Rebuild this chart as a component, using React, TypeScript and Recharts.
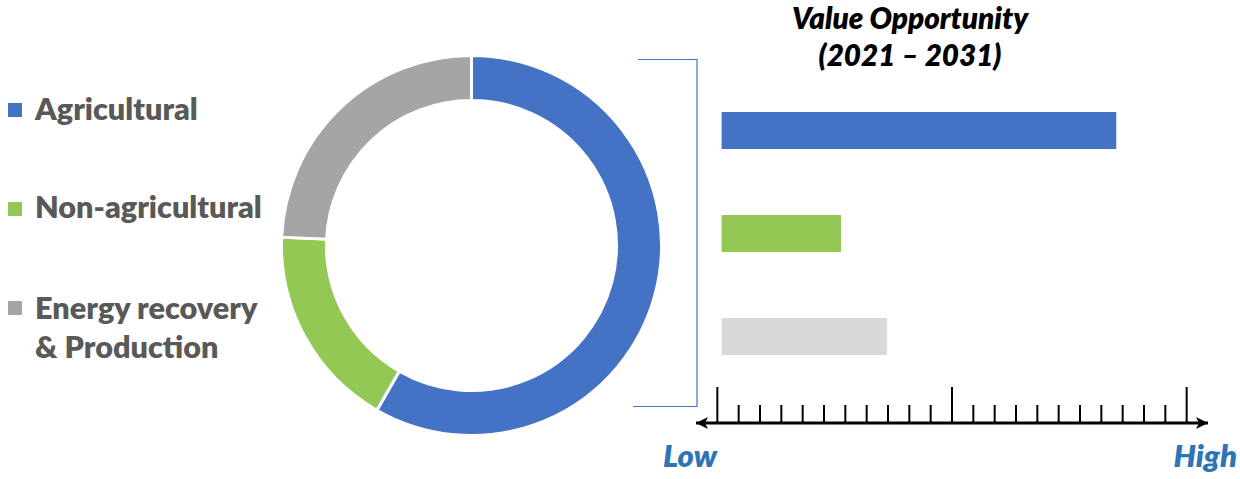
import React from 'react';
import { PieChart, Pie, Cell, BarChart, Bar, XAxis, YAxis, Legend } from 'recharts';

const categories = ['Agricultural', 'Non-agricultural', 'Energy recovery & Production'];
const legendLines = [['Agricultural'], ['Non-agricultural'], ['Energy recovery', '& Production']];
const shareValues = [58.3, 17.4, 24.3];
const opportunityStart = [0.2, 0.2, 0.2];
const opportunityEnd = [18.7, 5.8, 7.95];
const pieColors = ['#4472C4', '#92C853', '#A5A5A5'];
const barColors = ['#4472C4', '#92C853', '#D9D8D6'];
const scaleMin = -1;
const scaleMax = 23;
const scaleTicks = [-1, 0, 1, 2, 3, 4, 5, 6, 7, 8, 9, 10, 11, 12, 13, 14, 15, 16, 17, 18, 19, 20, 21, 22, 23];
const majorTicks = [0, 11, 22];
const titleLines = ['Value Opportunity', '(2021 \u2013 2031)'];
const scaleLabels = ['Low', 'High'];

const FONT = 'Lato, "Open Sans", sans-serif';

const pieData = categories.map((name, i) => ({ name, value: shareValues[i] }));
const barData = categories.map((name, i) => ({ name, range: [opportunityStart[i], opportunityEnd[i]] }));

const ScaleTick = (props: any) => {
  const { x, y, payload } = props;
  const v = payload.value;
  if (v === scaleMin) {
    return <polygon points={`${x},${y} ${x + 12},${y - 6} ${x + 9},${y} ${x + 12},${y + 6}`} fill="#000" />;
  }
  if (v === scaleMax) {
    return <polygon points={`${x},${y} ${x - 12},${y - 6} ${x - 9},${y} ${x - 12},${y + 6}`} fill="#000" />;
  }
  const len = majorTicks.includes(v) ? 36 : 18;
  return <line x1={x} x2={x} y1={y} y2={y - len} stroke="#000" strokeWidth={2} />;
};

const legendBaselines = [[120], [218], [319, 358]];
const legendSquareTops = [103, 202, 301];

const renderLegend = () => (
  <svg width={300} height={479} style={{ position: 'absolute', left: 0, top: 0 }}>
    {legendLines.map((lines, i) => (
      <g key={i}>
        <rect x={8} y={legendSquareTops[i]} width={14} height={14} fill={pieColors[i]} />
        {lines.map((t, j) => (
          <text key={j} x={35} y={legendBaselines[i][j]} fontFamily={FONT} fontWeight={800} fontSize={30.6} fill="#595959">
            {t}
          </text>
        ))}
      </g>
    ))}
  </svg>
);

export default function App() {
  return (
    <div style={{ position: 'absolute', left: 0, top: 0, width: 1240, height: 479, background: '#fff', overflow: 'hidden' }}>
      <div style={{ position: 'absolute', left: 0, top: 0 }}>
        <PieChart width={1240} height={479} margin={{ top: 0, right: 0, bottom: 0, left: 0 }}>
          <Pie
            data={pieData}
            dataKey="value"
            nameKey="name"
            cx={471.5}
            cy={245.5}
            innerRadius={145}
            outerRadius={190}
            startAngle={90}
            endAngle={-270}
            stroke="#fff"
            strokeWidth={3}
            isAnimationActive={false}
          >
            {pieData.map((d, i) => (
              <Cell key={d.name} fill={pieColors[i]} />
            ))}
          </Pie>
          <Legend content={renderLegend} wrapperStyle={{ position: 'absolute', left: 0, top: 0, width: 300, height: 479 }} />
        </PieChart>
      </div>
      <div style={{ position: 'absolute', left: 0, top: 0 }}>
        <BarChart
          width={1240}
          height={479}
          layout="vertical"
          data={barData}
          margin={{ top: 79, right: 32, bottom: 55, left: 696 }}
          barSize={37}
        >
          <XAxis
            type="number"
            domain={[scaleMin, scaleMax]}
            ticks={scaleTicks}
            interval={0}
            tick={<ScaleTick />}
            tickLine={false}
            tickSize={0}
            tickMargin={0}
            height={1}
            axisLine={{ stroke: '#000', strokeWidth: 3 }}
            allowDataOverflow
          />
          <YAxis type="category" dataKey="name" hide padding={{ top: 0, bottom: 35 }} />
          <Bar dataKey="range" isAnimationActive={false}>
            {barData.map((d, i) => (
              <Cell key={d.name} fill={barColors[i]} />
            ))}
          </Bar>
        </BarChart>
      </div>
      <svg width={1240} height={479} style={{ position: 'absolute', left: 0, top: 0, pointerEvents: 'none' }}>
        <polyline points="638,59.5 697,59.5 697,406.5 633,406.5" fill="none" stroke="#4472C4" strokeWidth={1.2} />
        <text x={910} y={29} textAnchor="middle" fontFamily={FONT} fontWeight={800} fontStyle="italic" fontSize={29.6} fill="#000">
          {titleLines[0]}
        </text>
        <text x={910} y={66} textAnchor="middle" fontFamily={FONT} fontWeight={800} fontStyle="italic" fontSize={29.6} fill="#000">
          {titleLines[1]}
        </text>
        <text x={663} y={467} fontFamily={FONT} fontWeight={800} fontStyle="italic" fontSize={31} fill="#2E75B6">
          {scaleLabels[0]}
        </text>
        <text x={1237} y={467} textAnchor="end" fontFamily={FONT} fontWeight={800} fontStyle="italic" fontSize={31} fill="#2E75B6">
          {scaleLabels[1]}
        </text>
      </svg>
    </div>
  );
}
